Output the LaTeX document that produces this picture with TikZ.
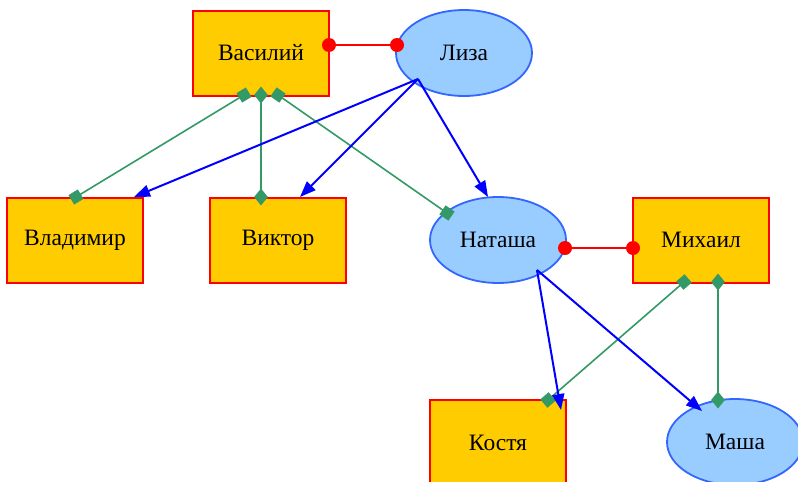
\documentclass[tikz,border=0pt]{standalone}
\usepackage{fontspec}
\setmainfont{Liberation Serif}
\usetikzlibrary{shapes.geometric,arrows.meta}
\definecolor{boxfill}{HTML}{FFCC00}
\definecolor{ellfill}{HTML}{99CCFF}
\definecolor{elldraw}{HTML}{3366FF}
\definecolor{grn}{HTML}{339966}
\definecolor{blu}{HTML}{0000FF}
\definecolor{rd}{HTML}{FF0000}
\begin{document}
\begin{tikzpicture}[x=1pt,y=-1pt,
  boxnode/.style={rectangle, draw=rd, fill=boxfill, line width=2pt, minimum width=136pt, minimum height=85pt, inner sep=0pt, font=\fontsize{23.5}{26}\selectfont},
  ellnode/.style={ellipse, draw=elldraw, fill=ellfill, line width=1.8pt, minimum width=136pt, minimum height=86pt, inner sep=0pt, font=\fontsize{23.5}{26}\selectfont},
  redline/.style={draw=rd, line width=1.6pt},
  reddot/.style={circle, fill=rd, inner sep=0pt, minimum size=14pt},
  greenline/.style={draw=grn, line width=1.6pt},
  gsq/.style={rectangle, fill=grn, inner sep=0pt, minimum width=11pt, minimum height=11pt},
  gdia/.style={diamond, fill=grn, inner sep=0pt, minimum width=14pt, minimum height=17pt},
  blueline/.style={draw=blu, line width=2pt, -{Triangle[length=16pt,width=12pt]}},
]
\useasboundingbox (0,0) rectangle (798,482);
% nodes
\node[boxnode] (vas) at (261,53) {Василий};
\node[ellnode] (liza) at (464,53) {Лиза};
\node[boxnode] (vla) at (75,240) {Владимир};
\node[boxnode] (vik) at (278,240) {Виктор};
\node[ellnode] (nat) at (498,240) {Наташа};
\node[boxnode] (mih) at (701,240) {Михаил};
\node[boxnode] (kos) at (498,442.5) {Костя};
\node[ellnode] (mas) at (735,442) {Маша};
% attachment points
\coordinate (vasE) at (329,45);
\coordinate (lizaW) at (397,45);
\coordinate (natE) at (565,248);
\coordinate (mihW) at (633,248);
\coordinate (vasS1) at (244,95);
\coordinate (vasS2) at (261,95);
\coordinate (vasS3) at (278,95);
\coordinate (vlaN) at (76,197);
\coordinate (vikN) at (261,197);
\coordinate (natNW) at (447,213);
\coordinate (mihS1) at (684,282);
\coordinate (mihS2) at (718,282);
\coordinate (kosN) at (548,400);
\coordinate (masN) at (718,400);
\coordinate (lizaO) at (418,79);
\coordinate (natO) at (537,270);
\coordinate (vlaT) at (134,197);
\coordinate (vikT) at (300,197);
\coordinate (natT) at (488,197);
\coordinate (kosT) at (561,410);
\coordinate (masT) at (702,411);
% red connectors
\draw[redline] (vasE) -- (lizaW);
\draw[redline] (natE) -- (mihW);
\node[reddot] at (vasE) {};
\node[reddot] at (lizaW) {};
\node[reddot] at (natE) {};
\node[reddot] at (mihW) {};
% green connectors
\draw[greenline] (vasS1) -- (vlaN);
\draw[greenline] (vasS2) -- (vikN);
\draw[greenline] (vasS3) -- (natNW);
\draw[greenline] (mihS1) -- (kosN);
\draw[greenline] (mihS2) -- (masN);
\node[gsq, rotate=31.3] at (vasS1) {};
\node[gsq, rotate=31.3] at (vlaN) {};
\node[gdia] at (vasS2) {};
\node[gdia] at (vikN) {};
\node[gsq, rotate=-34.9] at (vasS3) {};
\node[gsq, rotate=-34.9] at (natNW) {};
\node[gsq, rotate=40.9] at (mihS1) {};
\node[gsq, rotate=40.9] at (kosN) {};
\node[gdia] at (mihS2) {};
\node[gdia] at (masN) {};
% blue arrows
\draw[blueline] (lizaO) -- (vlaT);
\draw[blueline] (lizaO) -- (vikT);
\draw[blueline] (lizaO) -- (natT);
\draw[blueline] (natO) -- (kosT);
\draw[blueline] (natO) -- (masT);
\end{tikzpicture}
\end{document}
